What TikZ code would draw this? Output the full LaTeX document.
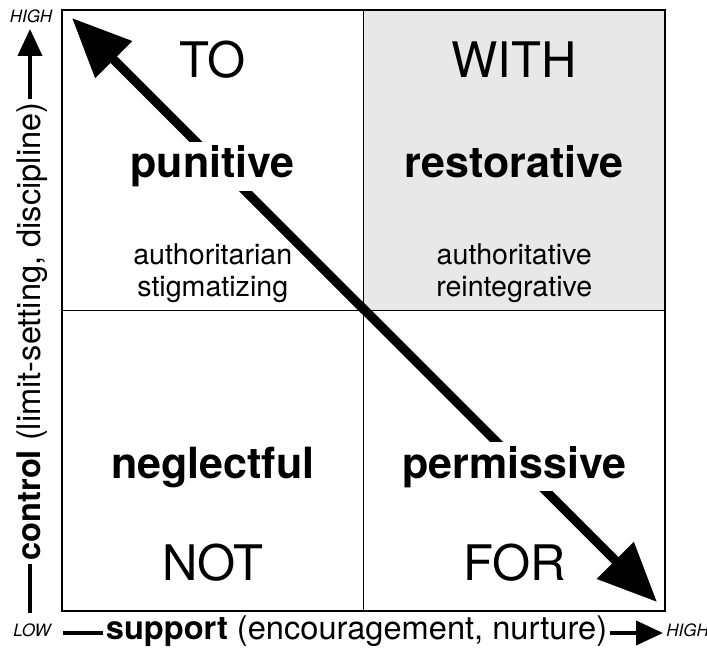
\documentclass[tikz,border=0pt]{standalone}
\usepackage{fontspec}
\setmainfont{TeX Gyre Heros}
\usetikzlibrary{positioning}
\usetikzlibrary{arrows.meta}
\definecolor{withgray}{gray}{0.91}

\begin{document}
\begin{tikzpicture}[
		x=0.5pt, y=-0.5pt,
		% Style definitions for the window
		cell/.style={draw, line width=0.75pt, minimum width=150.75pt, minimum height=150.25pt, inner sep=0pt, outer sep=0pt},
		frame/.style={draw, line width=1pt},
		word/.style={font=\fontsize{24.5}{28}\selectfont, anchor=base},
		mode/.style={font=\fontsize{21.5}{25}\selectfont\bfseries, anchor=base, fill=white, inner sep=2pt},
		note/.style={font=\fontsize{14.3}{16}\selectfont, align=center, anchor=base},
		axislabel/.style={font=\fontsize{16.3}{19}\selectfont, inner sep=1.5pt},
		level/.style={font=\fontsize{8.5}{10}\selectfont\itshape, inner sep=0pt},
		axis/.style={line width=2pt},
		axisarrow/.style={axis, -{Triangle[length=13.5pt, width=12pt]}},
		bigarrow/.style={line width=4.6pt, {Triangle[length=29.5pt, width=25pt]}-{Triangle[length=29.5pt, width=25pt]}},
		]
		\useasboundingbox (0,0) rectangle (707,652);

		% === Cells: two by two ===
		\node[cell] (to) at (212.75,160.25) {};
		\node[cell, fill=withgray, right=0pt of to] (with) {};
		\node[cell, below=0pt of to] (not) {};
		\node[cell, right=0pt of not] (for) {};
		\draw[frame] (to.north west) rectangle (for.south east);

		% === Diagonal arrow ===
		\coordinate (nw) at (72,18);
		\coordinate (se) at (657,602);
		\draw[bigarrow] (nw) -- (se);

		% === Cell texts ===
		\node[word] (tolab) at (212.75,78) {TO};
		\node[word] (withlab) at (514.25,78) {WITH};
		\node[mode] (punitive) at (212.75,178) {punitive};
		\node[mode, fill=withgray] (restorative) at (514.25,178) {restorative};
		\node[note] (authoritarian) at (212.75,297) {authoritarian\\stigmatizing};
		\node[note] (authoritative) at (514.25,297) {authoritative\\reintegrative};
		\node[mode] (neglectful) at (212.75,478) {neglectful};
		\node[mode] (permissive) at (514.25,478) {permissive};
		\node[word] (notlab) at (212.75,580) {NOT};
		\node[word] (forlab) at (514.25,580) {FOR};

		% === Axes ===
		\coordinate (xlo) at (63,633);
		\coordinate (xhi) at (663,633);
		\node[axislabel, anchor=base] (xlab) at (356.5,639) {\textbf{support} (encouragement, nurture)};
		\draw[axis] (xlo) -- (xlo -| xlab.west);
		\draw[axisarrow] (xhi -| xlab.east) -- (xhi);

		\coordinate (ylo) at (30,613);
		\coordinate (yhi) at (30,29);
		\node[axislabel, rotate=90, anchor=base] (ylab) at (40,331.5) {\textbf{control} (limit-setting, discipline)};
		\draw[axis] (ylo) -- (ylo |- ylab.west);
		\draw[axisarrow] (ylo |- ylab.east) -- (yhi);

		% === Low / high marks ===
		\node[level, anchor=base] (xlow) at (32,636) {LOW};
		\node[level, anchor=base west] (xhigh) at (666,636) {HIGH};
		\node[level, anchor=base] (yhigh) at (31,23) {HIGH};

	\end{tikzpicture}
\end{document}
